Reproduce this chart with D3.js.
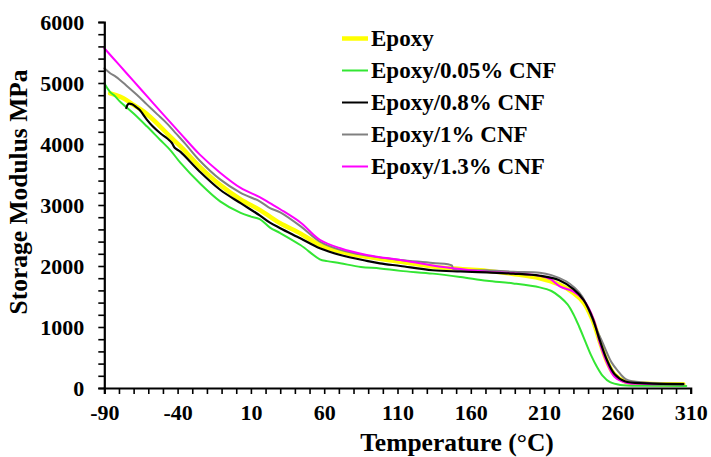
<!DOCTYPE html>
<html><head><meta charset="utf-8">
<script src="https://cdn.jsdelivr.net/npm/d3@7"></script>
<style>body{margin:0;background:#fff}svg{display:block}text{font-family:"Liberation Serif","Times New Roman",serif;font-weight:bold}</style>
</head><body>
<svg id="c" width="711" height="457"></svg>
<script>
const xMajorTicks = [-90,-40,10,60,110,160,210,260,310];
const yMajorTicks = [0,1000,2000,3000,4000,5000,6000];
const seriesNames = ["Epoxy","Epoxy/0.05% CNF","Epoxy/0.8% CNF","Epoxy/1% CNF","Epoxy/1.3% CNF"];
const seriesColors = ["#ffff00","#33e633","#000000","#808080","#ff00ff"];

const epoxyT = [-86,-82,-77,-70,-63,-59,-52,-45,-38,-25,-11,3,16,23,30,44,57,71,89,112,134,153,171,189,207,220,230,237,243,248,253,258,265,280,305];
const epoxyE = [4830,4800,4750,4640,4530,4450,4290,4120,3960,3630,3330,3090,2920,2810,2700,2530,2345,2235,2150,2070,1990,1950,1920,1870,1800,1700,1560,1400,1120,760,430,220,110,70,60];

const cnf005T = [-90,-86,-83,-79,-70,-61,-52,-45,-38,-25,-11,3,10,16,23,30,44,57,62,71,85,98,112,134,153,171,189,207,215,221,226,230,234,238,242,246,250,255,262,280,307];
const cnf005E = [4995,4850,4790,4690,4500,4290,4070,3900,3690,3360,3060,2870,2810,2770,2630,2540,2340,2110,2080,2045,1985,1960,1920,1875,1820,1760,1715,1650,1590,1490,1370,1210,1000,770,540,350,200,95,50,38,33];

const cnf08T = [-75,-73.5,-71,-68,-66,-61,-57,-52,-47,-44,-42,-38,-25,-11,3,16,23,30,44,57,71,89,98,112,134,153,171,189,207,220,230,237,243,248,253,258,265,280,305];
const cnf08E = [4590,4660,4650,4600,4560,4400,4290,4180,4090,4020,3940,3870,3550,3250,3030,2830,2710,2620,2450,2290,2180,2085,2044,2000,1930,1910,1895,1875,1840,1770,1620,1440,1150,780,450,230,110,75,65];

const cnf1T = [-90,-86,-82,-75,-68,-61,-54,-47,-41,-35,-25,-11,3,16,23,30,44,57,71,89,112,134,147,148,171,189,207,215,225,231,236,241,246,250,253,256,260,266,280,305];
const cnf1E = [5240,5160,5100,4960,4810,4650,4490,4330,4170,4010,3730,3420,3200,3060,2950,2880,2650,2400,2265,2170,2100,2050,2010,1950,1930,1905,1890,1850,1750,1640,1500,1250,950,740,570,420,290,140,88,70];

const cnf13T = [-90,-80,-70,-60,-50,-38,-25,-11,3,16,23,30,44,57,71,89,98,112,134,153,171,189,207,214,221,230,237,244,248,253,258,266,280,305];
const cnf13E = [5570,5300,5030,4760,4490,4170,3830,3530,3280,3130,3030,2930,2710,2430,2290,2180,2145,2100,2010,1950,1905,1880,1840,1790,1661,1580,1440,1115,733,405,185,87,66,61];

const seriesT = [epoxyT,cnf005T,cnf08T,cnf1T,cnf13T];
const seriesE = [epoxyE,cnf005E,cnf08E,cnf1E,cnf13E];
const widths = [4.5,2,2.2,2,2];

const svg = d3.select("#c");
const x = d3.scaleLinear().domain([-90,310]).range([104.3,690.7]);
const y = d3.scaleLinear().domain([0,6000]).range([388,22]);

const line = d3.line().x(d=>x(d[0])).y(d=>y(d[1])).curve(d3.curveCatmullRom.alpha(0.5));
[0,1,3,4,2].forEach(i=>{
  const pts = seriesT[i].map((t,k)=>[t,seriesE[i][k]]);
  svg.append("path").attr("d",line(pts)).attr("fill","none")
    .attr("stroke",seriesColors[i]).attr("stroke-width",widths[i]).attr("stroke-linejoin","round").attr("stroke-linecap","round");
});

const xMinor = d3.range(-90,311,10);
const yMinor = d3.range(0,6001,200);
const xAxis = d3.axisBottom(x).tickValues(xMinor).tickSize(6).tickFormat(d=>xMajorTicks.includes(d)?d:"").tickPadding(10);
const yAxis = d3.axisLeft(y).tickValues(yMinor).tickSize(6).tickFormat(d=>yMajorTicks.includes(d)?d:"").tickPadding(14);
const gx = svg.append("g").attr("transform","translate(0,388)").call(xAxis);
const gy = svg.append("g").attr("transform","translate(104.3,0)").call(yAxis);
[gx,gy].forEach(g=>{
  g.select(".domain").attr("stroke","#000").attr("stroke-width",2.2);
  g.selectAll(".tick line").attr("stroke","#000").attr("stroke-width",1.6);
  g.selectAll(".tick text").attr("fill","#000").style("font-size","22px").style("font-family","'Liberation Serif',serif").style("font-weight","bold");
});
gy.selectAll(".tick text").attr("dy","0.35em");

svg.append("text").attr("x",457).attr("y",451).attr("text-anchor","middle").style("font-size","25.5px").text("Temperature (°C)");
svg.append("text").attr("transform","translate(27,192) rotate(-90)").attr("text-anchor","middle").style("font-size","25.5px").text("Storage Modulus MPa");

seriesNames.forEach((n,i)=>{
  const ly = 38.5 + i*32;
  svg.append("line").attr("x1",342).attr("x2",368).attr("y1",ly).attr("y2",ly)
    .attr("stroke",seriesColors[i]).attr("stroke-width",i===0?4.5:2);
  svg.append("text").attr("x",371).attr("y",ly+7.5).style("font-size","23px").text(n);
});
</script>
</body></html>
